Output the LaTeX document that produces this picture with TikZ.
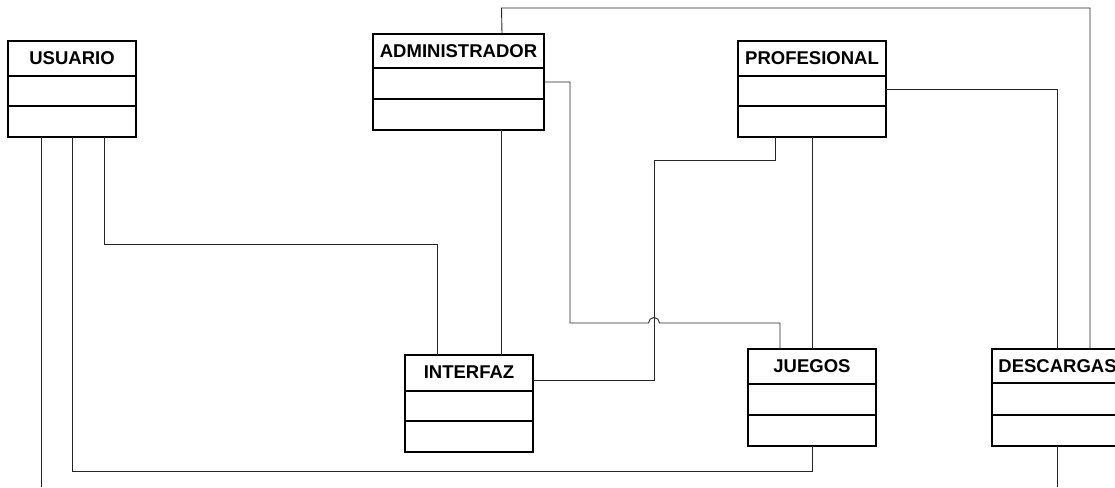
\documentclass[tikz,border=0pt]{standalone}
\usepackage{fontspec}
\setmainfont{Liberation Sans}
\tikzset{
  clsbox/.style={draw=black, line width=1.6pt, outer sep=0pt, inner sep=0pt, fill=white},
  clsline/.style={draw=black, line width=1.6pt},
  clstitle/.style={font=\bfseries\fontsize{18.5}{20}\selectfont, inner sep=0pt, anchor=center},
  link/.style={draw=black!85, line width=0.9pt, line join=miter}
}
% name, left x, top y, width, height, header height, second row bottom, title
\newcommand\umlclass[8]{%
  \node[clsbox, minimum width=#4pt, minimum height=#5pt, anchor=north west] (#1) at (#2,#3) {};
  \draw[clsline] ([yshift=-#6pt]#1.north west) -- ([yshift=-#6pt]#1.north east);
  \draw[clsline] ([yshift=-#7pt]#1.north west) -- ([yshift=-#7pt]#1.north east);
  \node[clstitle] (#1t) at ([yshift=-17.5pt]#1.north) {#8};
}
\begin{document}
\begin{tikzpicture}[x=1pt, y=-1pt]
  \useasboundingbox (0,0) rectangle (1115,487);

  % classes
  \umlclass{usu}{8}{41}{128}{96}{35}{65}{USUARIO}
  \umlclass{adm}{373}{34}{171}{96}{34}{65}{ADMINISTRADOR}
  \umlclass{pro}{738}{41}{148}{96}{35}{65}{PROFESIONAL}
  \umlclass{int}{405}{355}{128}{97}{36}{66}{INTERFAZ}
  \umlclass{jue}{748}{349}{128}{97}{35}{66}{JUEGOS}
  \umlclass{des}{992}{349}{131}{97}{34}{66}{DESCARGAS}

  % free ends at the lower edge
  \coordinate (uend) at (41,487);
  \coordinate (dend) at (1057.5,487);

  % connectors
  \draw[link] ([xshift=-31pt]usu.south) -- (uend);
  \draw[link] (usu.south) |- ([yshift=-25pt]jue.south) -- (jue.south);
  \draw[link] ([xshift=32pt]usu.south) -- (104,244) -- (437,244) -- ([xshift=-32pt]int.north);
  \draw[link] ([xshift=43.5pt]adm.north) -- (501.5,8) -- (1090,8) -- ([xshift=32.5pt]des.north);
  \draw[link] (adm.east) -- (570,82) -- (570,323) -- (648.5,323)
      arc[start angle=180, end angle=0, radius=5.5pt] -- (780,323) -- ([xshift=-32pt]jue.north);
  \draw[link] ([xshift=43pt]adm.south) -- ([xshift=32.5pt]int.north);
  \draw[link] ([xshift=-37pt]pro.south) -- (775,160) -- (654,160) -- (654,380) -- ([yshift=23.5pt]int.east);
  \draw[link] (pro.south) -- (jue.north);
  \draw[link] (pro.east) -- (1057.5,89) -- (des.north);
  \draw[link] (des.south) -- (dend);
\end{tikzpicture}
\end{document}
